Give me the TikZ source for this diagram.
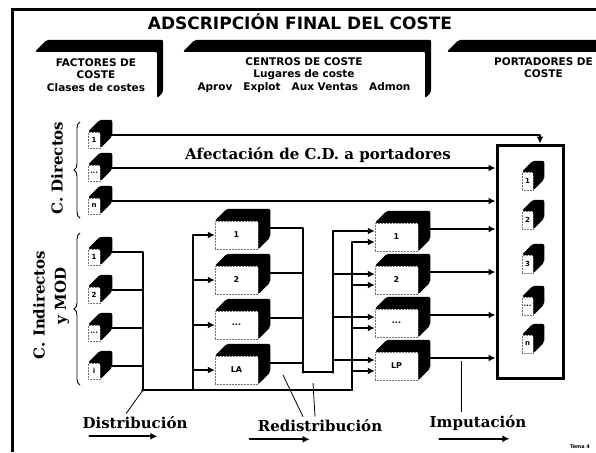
\documentclass[tikz,border=0pt]{standalone}
\usepackage{fontspec}
\newfontfamily\hdrfont{DejaVu Sans}
\newfontfamily\lblfont{DejaVu Serif}
\usetikzlibrary{arrows.meta, positioning, decorations.pathreplacing}

\begin{document}
\begin{tikzpicture}[x=1pt, y=-1pt,
  conn/.style={line width=2.8pt, line cap=round, line join=round},
  arr/.style={conn, -{Latex[length=7pt, width=7pt]}},
  face/.style={rectangle, fill=white, draw=black!55, densely dotted, line width=0.5pt,
               inner sep=0pt, font=\hdrfont\bfseries\fontsize{7}{8}\selectfont},
  smallcube/.style={face, minimum width=12pt, minimum height=16pt},
  bigcube/.style={face, minimum width=43pt, minimum height=28pt,
                  font=\hdrfont\bfseries\fontsize{8}{9}\selectfont},
  tinycube/.style={face, minimum width=11pt, minimum height=18pt},
  header/.style={rectangle, fill=white, inner sep=0pt, minimum height=46pt, align=center,
                 font=\hdrfont\bfseries\fontsize{10.5}{12.5}\selectfont},
  lbl/.style={font=\lblfont\bfseries\fontsize{15}{16}\selectfont, inner sep=0pt},
  leader/.style={line width=0.8pt},
  brace/.style={decorate, decoration={brace, amplitude=6pt}, line width=0.9pt}
]
  \clip (0,0) rectangle (596,452);
  \fill[white] (0,0) rectangle (596,452);

  % frame and title
  \draw[line width=3pt] (12,452) -- (12,10) -- (596,10);
  \node[font=\hdrfont\bfseries\fontsize{17}{18}\selectfont, inner sep=0pt] (title) at (300,22)
    {ADSCRIPCIÓN FINAL DEL COSTE};

  % header boxes
  \node[header, minimum width=122pt] (fac) at (96,75) {FACTORES DE\\COSTE\\Clases de costes};
  \node[header, minimum width=242pt] (cen) at (304,75)
    {CENTROS DE COSTE\\Lugares de coste\\Aprov~~~Explot~~~Aux Ventas~~~Admon};
  \node[header, minimum width=193pt] (por) at (543.5,75) {PORTADORES DE\\COSTE\\[2pt]};
  \foreach \n in {fac,cen,por}
    \fill[rounded corners=2pt] (\n.north west) -- ([shift={(12,-12)}]\n.north west)
      -- ([shift={(6,-12)}]\n.north east) -- ([shift={(6,-6)}]\n.south east)
      -- (\n.south east) -- (\n.north east) -- cycle;

  % cost elements
  \node[smallcube] (d1) at (94,140) {1};
  \node[smallcube] (d2) at (94,173) {...};
  \node[smallcube] (d3) at (94,206) {n};
  \node[smallcube] (i1) at (94,257) {1};
  \node[smallcube] (i2) at (94,295) {2};
  \node[smallcube] (i3) at (94,333) {...};
  \node[smallcube] (i4) at (94,371) {i};

  % auxiliary and main centres
  \node[bigcube] (a1) at (236.5,235) {1};
  \node[bigcube] (a2) at (236.5,280) {2};
  \node[bigcube] (a3) at (236.5,325) {...};
  \node[bigcube] (a4) at (236.5,370) {LA};
  \node[bigcube] (l1) at (396.5,237) {1};
  \node[bigcube] (l2) at (396.5,280) {2};
  \node[bigcube] (l3) at (396.5,323) {...};
  \node[bigcube] (l4) at (396.5,366) {LP};

  % cost objects
  \node[draw, line width=3pt, minimum width=66pt, minimum height=233pt] (port) at (530,261.5) {};
  \node[tinycube] (p1) at (527.5,181) {1};
  \node[tinycube] (p2) at (527.5,220) {2};
  \node[tinycube] (p3) at (527.5,264) {3};
  \node[tinycube] (p4) at (527.5,306) {...};
  \node[tinycube] (p5) at (527.5,344) {n};

  \foreach \n in {d1,d2,d3,i1,i2,i3,i4,a1,a2,a3,a4,l1,l2,l3,l4}
    \fill[rounded corners=2pt] (\n.north west) -- ([shift={(12,-12)}]\n.north west)
      -- ([shift={(12,-12)}]\n.north east) -- ([shift={(12,-12)}]\n.south east)
      -- (\n.south east) -- (\n.north east) -- cycle;
  \foreach \n in {p1,p2,p3,p4,p5}
    \fill[rounded corners=2pt] (\n.north west) -- ([shift={(11,-11)}]\n.north west)
      -- ([shift={(11,-11)}]\n.north east) -- ([shift={(11,-11)}]\n.south east)
      -- (\n.south east) -- (\n.north east) -- cycle;

  % braces and side labels
  \draw[brace] (80,218) -- (80,122);
  \draw[brace] (80,385) -- (80,233);
  \node[lbl, rotate=90] (cd) at (57,168) {C. Directos};
  \node[lbl, rotate=90] (ci) at (39,305) {C. Indirectos};
  \node[lbl, rotate=90] (mod) at (62,296) {y MOD};

  % direct costs
  \draw[arr] ([shift={(12,-5)}]d1.east) -| ([xshift=10pt]port.north);
  \path ([shift={(12,-5)}]d2.east) coordinate (d2o) ([shift={(12,-5)}]d3.east) coordinate (d3o);
  \draw[arr] (d2o) -- (d2o -| port.west);
  \draw[arr] (d3o) -- (d3o -| port.west);
  \node[lbl, fill=white, inner sep=2pt] (afec) at (318,155) {Afectación de C.D. a portadores};

  % distribution
  \coordinate (dist) at (143,390);
  \coordinate (feedA) at (193,390);
  \coordinate (feedB) at (352,390);
  \foreach \n in {i1,i2,i3,i4}
    \draw[conn] ([shift={(12,-5)}]\n.east) -| (dist);
  \foreach \n in {a1,a2,a3,a4}
    \draw[arr] (dist) -- (feedA) |- (\n.west);
  \foreach \n in {l1,l2,l3,l4}
    \draw[arr] (dist) -- (feedB) |- ([shift={(0,5)}]\n.west);

  % redistribution
  \coordinate (rA) at (303,372);
  \coordinate (rB) at (333,372);
  \foreach \n in {a1,a2,a3,a4}
    \draw[conn] ([shift={(12,-7)}]\n.east) -| (rA);
  \draw[conn] (rA) -- (rB);
  \foreach \n in {l1,l2,l3,l4}
    \draw[arr] (rB) |- ([shift={(0,-6)}]\n.west);

  % imputation
  \foreach \n in {l1,l2,l3,l4} {
    \path ([shift={(12,-8)}]\n.east) coordinate (lo);
    \draw[arr] (lo) -- (lo -| port.west);
  }

  % phase labels
  \node[lbl] (dis) at (135,423) {Distribución};
  \node[lbl] (red) at (320,426) {Redistribución};
  \node[lbl] (imp) at (478,423) {Imputación};
  \draw[arr, line width=2.2pt] ([shift={(7,7)}]dis.south west) -- ++(68,0);
  \draw[arr, line width=2.2pt] ([shift={(-8,7)}]red.south west) -- ++(60,0);
  \draw[arr, line width=2.2pt] ([shift={(10,8)}]imp.south west) -- ++(70,0);
  \coordinate (tA) at (283,375);
  \coordinate (tB) at (313,383);
  \coordinate (impt) at (461,361);
  \draw[leader] ([shift={(-9,-3)}]dis.north) -- (dist);
  \draw[leader] ([shift={(-17,-3)}]red.north) -- (tA);
  \draw[leader] ([shift={(-5,-3)}]red.north) -- (tB);
  \draw[leader] (impt) -- ([yshift=3pt]impt |- imp.north);

  % footer
  \node[font=\hdrfont\bfseries\fontsize{5}{6}\selectfont, inner sep=0pt] (tema) at (580,447) {Tema 4};
\end{tikzpicture}
\end{document}
